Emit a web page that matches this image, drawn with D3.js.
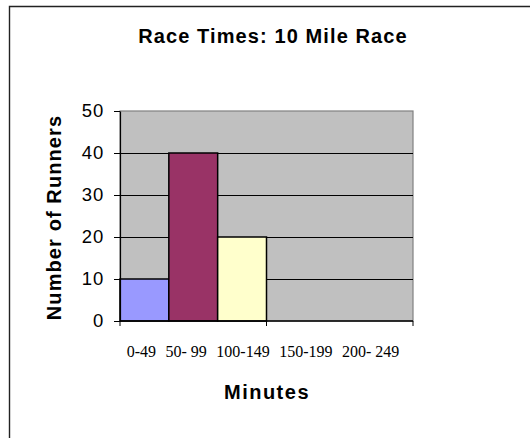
<!DOCTYPE html>
<html>
<head>
<meta charset="utf-8">
<script src="https://cdn.jsdelivr.net/npm/d3@7"></script>
<style>
  html, body { margin: 0; padding: 0; background: #fff; overflow: hidden; }
  svg { display: block; }
</style>
</head>
<body>
<div id="chart"></div>
<script>
// data
var binLabels = ["0-49", "50- 99", "100-149", "150-199", "200- 249"];
var runners = [10, 40, 20, 0, 0];
var yTicks = [0, 10, 20, 30, 40, 50];
var barColors = ["#9999ff", "#993366", "#ffffcc", "#9999ff", "#993366"];

function init() {
    var w = 530, h = 438;

    var svg = d3.select("#chart").append("svg")
        .attr("width", w)
        .attr("height", h);

    // outer chart border, only left and top show (the rest is cut off)
    svg.append("path")
        .attr("d", "M9.5," + h + "V6.5H" + w)
        .attr("fill", "none")
        .attr("stroke", "#222")
        .attr("stroke-width", 1.4);

    var plot = { left: 120, top: 111, right: 413, bottom: 321 };

    // 6 slots on the category axis, only the first ones hold data
    var x = d3.scaleBand()
        .domain(d3.range(6))
        .range([plot.left, plot.right])
        .padding(0);

    var y = d3.scaleLinear()
        .domain([0, 50])
        .range([plot.bottom, plot.top]);

    // plot area
    svg.append("rect")
        .attr("x", plot.left).attr("y", plot.top)
        .attr("width", plot.right - plot.left)
        .attr("height", plot.bottom - plot.top)
        .attr("fill", "#c0c0c0")
        .attr("stroke", "#808080")
        .attr("stroke-width", 1.2);

    // gridlines
    svg.append("g")
        .selectAll("line")
        .data(yTicks.filter(function (d) { return d > 0 && d < 50; }))
        .enter().append("line")
        .attr("x1", plot.left).attr("x2", plot.right)
        .attr("y1", function (d) { return Math.round(y(d)) + 0.5; })
        .attr("y2", function (d) { return Math.round(y(d)) + 0.5; })
        .attr("stroke", "#000")
        .attr("stroke-width", 1);

    // bars
    svg.append("g")
        .selectAll("rect")
        .data(runners)
        .enter().append("rect")
        .filter(function (d) { return d > 0; })
        .attr("x", function (d, i) { return x(i); })
        .attr("y", function (d) { return y(d); })
        .attr("width", x.bandwidth())
        .attr("height", function (d) { return y(0) - y(d); })
        .attr("fill", function (d, i) { return barColors[i]; })
        .attr("stroke", "#000")
        .attr("stroke-width", 1.5);

    // y axis
    var yAxis = d3.axisLeft(y)
        .tickValues(yTicks)
        .tickSize(6)
        .tickPadding(10)
        .tickSizeOuter(0);
    var gy = svg.append("g")
        .attr("transform", "translate(" + plot.left + ",0)")
        .call(yAxis);
    gy.select(".domain").attr("stroke", "#000").attr("stroke-width", 1.2);
    gy.selectAll(".tick line").attr("stroke", "#000");
    gy.selectAll(".tick text")
        .attr("font-family", "Liberation Sans, Arial, sans-serif")
        .attr("font-size", 18.5)
        .attr("letter-spacing", 0.8)
        .attr("fill", "#000");

    // x axis line with a tick every third slot
    svg.append("line")
        .attr("x1", plot.left).attr("x2", plot.right)
        .attr("y1", plot.bottom).attr("y2", plot.bottom)
        .attr("stroke", "#000").attr("stroke-width", 1.4);
    svg.append("g")
        .selectAll("line")
        .data([0, 3, 6])
        .enter().append("line")
        .attr("x1", function (d) { return d < 6 ? x(d) : plot.right; })
        .attr("x2", function (d) { return d < 6 ? x(d) : plot.right; })
        .attr("y1", plot.bottom).attr("y2", plot.bottom + 5)
        .attr("stroke", "#000");

    // category labels set in one row, like a text box under the axis
    var row = svg.append("text")
        .attr("x", 263).attr("y", 357)
        .attr("text-anchor", "middle")
        .attr("font-family", "Liberation Serif, Times New Roman, serif")
        .attr("font-size", 16)
        .attr("fill", "#000");
    row.selectAll("tspan")
        .data(binLabels)
        .enter().append("tspan")
        .attr("dx", function (d, i) { return i === 0 ? 0 : 9.5; })
        .text(function (d) { return d; });

    // titles
    svg.append("text")
        .attr("x", 273).attr("y", 42.5)
        .attr("text-anchor", "middle")
        .attr("font-family", "Liberation Sans, Arial, sans-serif")
        .attr("font-weight", "bold")
        .attr("font-size", 20)
        .attr("letter-spacing", 1.1)
        .text("Race Times: 10 Mile Race");

    svg.append("text")
        .attr("x", 267).attr("y", 399)
        .attr("text-anchor", "middle")
        .attr("font-family", "Liberation Sans, Arial, sans-serif")
        .attr("font-weight", "bold")
        .attr("font-size", 20)
        .attr("letter-spacing", 1.5)
        .text("Minutes");

    svg.append("text")
        .attr("transform", "translate(61,217.5) rotate(-90)")
        .attr("text-anchor", "middle")
        .attr("font-family", "Liberation Sans, Arial, sans-serif")
        .attr("font-weight", "bold")
        .attr("font-size", 20)
        .attr("letter-spacing", 1.1)
        .text("Number of Runners");
}
window.onload = init;
</script>
</body>
</html>
